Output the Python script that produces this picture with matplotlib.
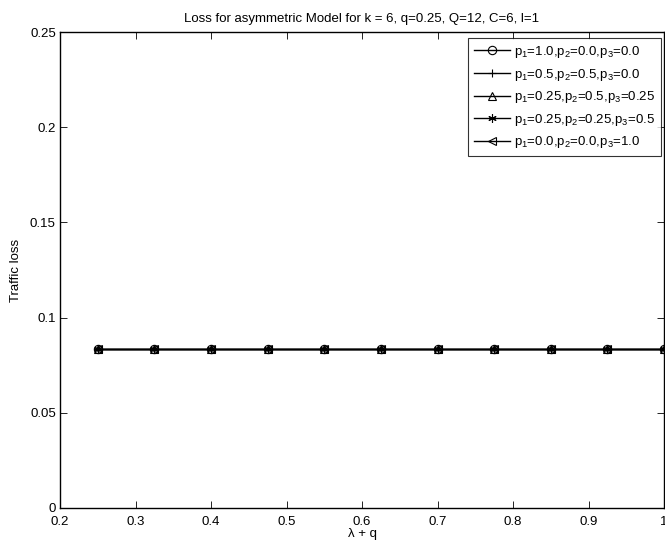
import matplotlib
matplotlib.use("Agg")
import matplotlib.pyplot as plt

plt.rcParams['font.family'] = ['Liberation Sans', 'DejaVu Sans']

x_vals = [0.25, 0.325, 0.4, 0.475, 0.55, 0.625, 0.7, 0.775, 0.85, 0.925, 1.0]
loss_s1 = [0.0833] * 11
loss_s2 = [0.0833] * 11
loss_s3 = [0.0833] * 11
loss_s4 = [0.0833] * 11
loss_s5 = [0.0833] * 11
series = [loss_s1, loss_s2, loss_s3, loss_s4, loss_s5]
labels = [r'p$_1$=1.0,p$_2$=0.0,p$_3$=0.0',
          r'p$_1$=0.5,p$_2$=0.5,p$_3$=0.0',
          r'p$_1$=0.25,p$_2$=0.5,p$_3$=0.25',
          r'p$_1$=0.25,p$_2$=0.25,p$_3$=0.5',
          r'p$_1$=0.0,p$_2$=0.0,p$_3$=1.0']
markers = ['o', '+', '^', (6, 2, 0), '<']
x_ticks = [0.2, 0.3, 0.4, 0.5, 0.6, 0.7, 0.8, 0.9, 1.0]
x_ticklabels = ['0.2', '0.3', '0.4', '0.5', '0.6', '0.7', '0.8', '0.9', '1']
y_ticks = [0, 0.05, 0.1, 0.15, 0.2, 0.25]
y_ticklabels = ['0', '0.05', '0.1', '0.15', '0.2', '0.25']

plt.rcParams['mathtext.fontset'] = 'custom'
plt.rcParams['mathtext.rm'] = 'Liberation Sans'
plt.rcParams['mathtext.it'] = 'Liberation Sans'

fs = 9.5
fig = plt.figure(figsize=(6.65, 5.43), dpi=100)
ax = fig.add_axes([60/665, 35/543, 604/665, 476/543])

for ys, lab, mk in zip(series, labels, markers):
    ax.plot(x_vals, ys, color='black', linewidth=1.0, marker=mk,
            markersize=6, markerfacecolor='none', markeredgecolor='black',
            markeredgewidth=0.8, label=lab)

ax.set_xlim(0.2, 1.0)
ax.set_ylim(0, 0.25)
ax.set_xticks(x_ticks)
ax.set_xticklabels(x_ticklabels)
ax.set_yticks(y_ticks)
ax.set_yticklabels(y_ticklabels)
ax.tick_params(direction='in', top=True, right=True, labelsize=fs, length=5, width=0.6)
ax.tick_params(axis='x', pad=6)
ax.tick_params(axis='y', pad=3)
for s in ax.spines.values():
    s.set_linewidth(1.0)

ax.set_xlabel(r'λ + q', fontsize=fs, labelpad=0)
ax.set_ylabel('Traffic loss', fontsize=fs, labelpad=6)
ax.set_title('Loss for asymmetric Model for k = 6, q=0.25, Q=12, C=6, l=1', fontsize=fs, pad=7)

leg = ax.legend(loc='upper right', bbox_to_anchor=(1 - 3/604, 1 - 6/476), borderaxespad=0,
                fontsize=fs, frameon=True, fancybox=False,
                edgecolor='black', handlelength=2.7,
                handletextpad=0.3, labelspacing=0.5, borderpad=0.45)
leg.get_frame().set_linewidth(0.8)

fig.savefig('out.png', dpi=100)
